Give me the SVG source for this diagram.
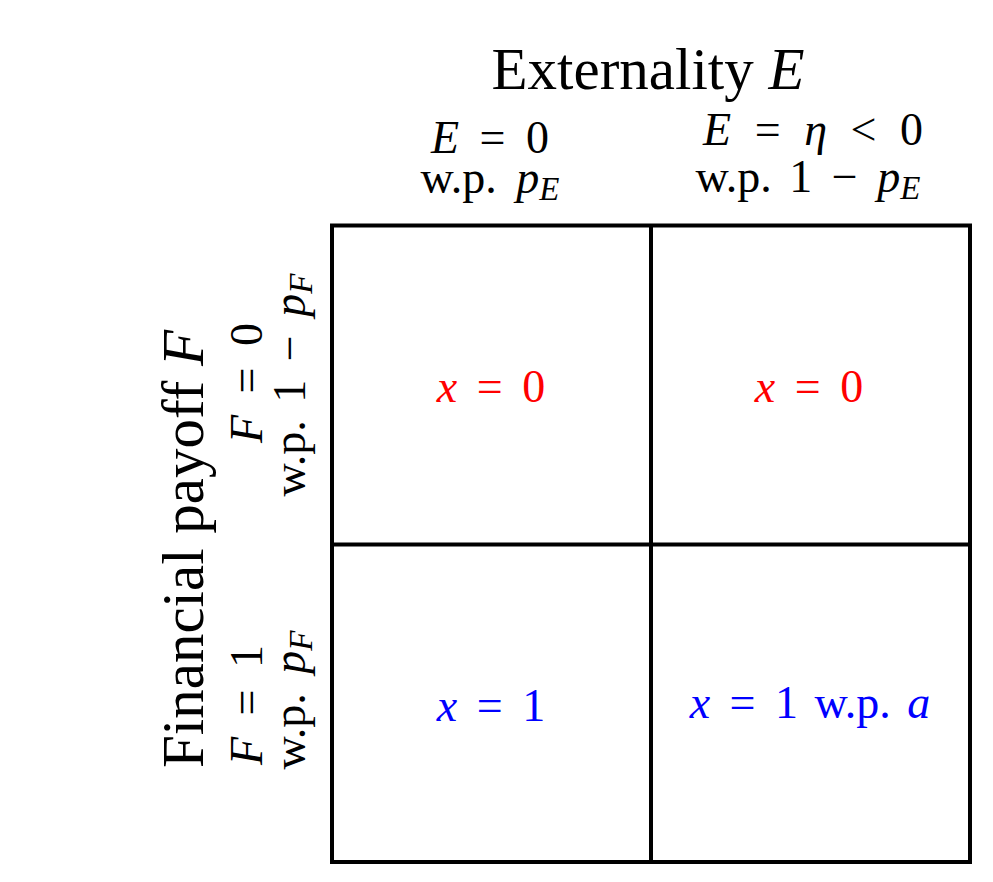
<svg xmlns="http://www.w3.org/2000/svg" width="993" height="882" viewBox="0 0 993 882">
<style>
text{font-family:"Liberation Serif","Times New Roman",serif;fill:#000}
.big{font-size:59px}
.mid{font-size:46px}
.sub{font-size:33px;font-style:italic}
.it{font-style:italic}
.red{fill:#ff0000}
.blue{fill:#0000ff}
.grid{fill:none;stroke:#000;stroke-width:4}
</style>
<rect width="993" height="882" fill="#fff"/>
<g id="titles">
<text class="big" x="648" y="89" text-anchor="middle">Externality <tspan class="it">E</tspan></text>
<text class="big" transform="translate(203,549) rotate(-90)" text-anchor="middle">Financial payoff <tspan class="it">F</tspan></text>
</g>
<g id="col-headers">
<text class="mid" text-anchor="middle"><tspan x="490" y="153" class="it">E</tspan><tspan dx="9"> =</tspan><tspan dx="9"> 0</tspan><tspan x="490" y="193">w.p.</tspan><tspan dx="8"> </tspan><tspan class="it">p</tspan><tspan class="sub" dy="7">E</tspan></text>
<text class="mid" text-anchor="middle"><tspan x="813" y="145" class="it">E</tspan><tspan dx="12"> =</tspan><tspan dx="12"> </tspan><tspan class="it">η</tspan><tspan dx="12"> &lt;</tspan><tspan dx="12"> 0</tspan><tspan x="808" y="192">w.p.</tspan><tspan dx="6"> 1</tspan><tspan dx="8"> −</tspan><tspan dx="8"> </tspan><tspan class="it">p</tspan><tspan class="sub" dy="7">E</tspan></text>
</g>
<g id="row-headers">
<text class="mid" transform="rotate(-90)" text-anchor="middle"><tspan x="-383" y="262" class="it">F</tspan><tspan dx="10"> =</tspan><tspan dx="10"> 0</tspan><tspan x="-385" y="305">w.p.</tspan><tspan dx="6"> 1</tspan><tspan dx="7"> −</tspan><tspan dx="7"> </tspan><tspan class="it">p</tspan><tspan class="sub" dy="7">F</tspan></text>
<text class="mid" transform="rotate(-90)" text-anchor="middle"><tspan x="-705" y="262" class="it">F</tspan><tspan dx="10"> =</tspan><tspan dx="10"> 1</tspan><tspan x="-700" y="305">w.p.</tspan><tspan dx="8"> </tspan><tspan class="it">p</tspan><tspan class="sub" dy="7">F</tspan></text>
</g>
<g id="grid">
<rect class="grid" x="332" y="225.5" width="638" height="636.5"/>
<line class="grid" x1="651" y1="225.5" x2="651" y2="862"/>
<line class="grid" x1="332" y1="544.5" x2="970" y2="544.5"/>
</g>
<g id="cell-f0-e0"><text class="mid red" x="491" y="402" text-anchor="middle"><tspan class="it">x</tspan><tspan dx="8"> =</tspan><tspan dx="8"> 0</tspan></text></g>
<g id="cell-f0-eeta"><text class="mid red" x="809" y="402" text-anchor="middle"><tspan class="it">x</tspan><tspan dx="8"> =</tspan><tspan dx="8"> 0</tspan></text></g>
<g id="cell-f1-e0"><text class="mid blue" x="491" y="721" text-anchor="middle"><tspan class="it">x</tspan><tspan dx="8"> =</tspan><tspan dx="8"> 1</tspan></text></g>
<g id="cell-f1-eeta"><text class="mid blue" x="810" y="718" text-anchor="middle"><tspan class="it">x</tspan><tspan dx="8"> =</tspan><tspan dx="8"> 1</tspan><tspan dx="5"> w.p.</tspan><tspan dx="5"> </tspan><tspan class="it">a</tspan></text></g>
</svg>
